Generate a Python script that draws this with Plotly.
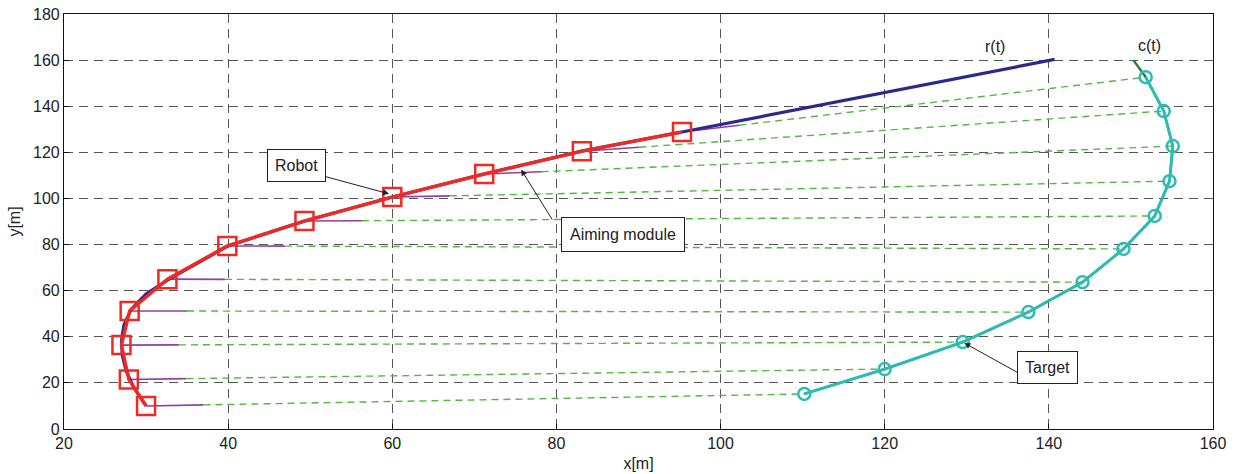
import plotly.graph_objects as go

# Robot positions (red squares) along its path
robot_x = [30.0, 27.9, 27.0, 28.0, 32.6, 39.9, 49.3, 60.0, 71.2, 83.1, 95.3]
robot_y = [10.0, 21.5, 36.4, 51.2, 65.0, 79.4, 90.2, 100.6, 110.6, 120.5, 128.8]

# Reference trajectory r(t)
ref_x = [30.0, 28.5, 27.6, 27.1, 27.0, 27.3, 28.2, 30.0, 32.8, 36.0, 40.0, 49.3, 60.0, 71.2, 83.1, 95.3, 140.7]
ref_y = [10.0, 18.0, 25.0, 32.0, 38.0, 45.0, 52.0, 58.5, 65.0, 71.5, 79.4, 90.2, 100.6, 110.6, 120.5, 128.8, 160.3]

# Target positions (cyan circles)
target_x = [110.2, 120.0, 129.5, 137.5, 144.1, 149.1, 152.9, 154.7, 155.1, 154.0, 151.8]
target_y = [15.2, 26.0, 37.7, 50.7, 63.7, 78.1, 92.4, 107.5, 122.7, 137.9, 152.6]

# Target trajectory c(t) continues past the last sample
ct_x = target_x + [150.3]
ct_y = target_y + [160.0]

x_ticks = [20, 40, 60, 80, 100, 120, 140, 160]
y_ticks = [0, 20, 40, 60, 80, 100, 120, 140, 160, 180]

AIM_LEN = 7.0  # length of the aiming-module segment (x units)

RED = "#ee2a24"
CYAN = "#2bbdb4"

fig = go.Figure()

# Lines of sight from robot to target
los_x, los_y, aim_x, aim_y = [], [], [], []
for xr, yr, xt, yt in zip(robot_x, robot_y, target_x, target_y):
    slope = (yt - yr) / (xt - xr)
    xe, ye = xr + AIM_LEN, yr + AIM_LEN * slope
    los_x += [xe, xt, None]
    los_y += [ye, yt, None]
    aim_x += [xr, xe, None]
    aim_y += [yr, ye, None]

fig.add_trace(go.Scatter(x=los_x, y=los_y, mode="lines",
                         line=dict(color="#52b83f", width=1.4, dash="7px,5px"),
                         hoverinfo="skip", showlegend=False))
fig.add_trace(go.Scatter(x=aim_x, y=aim_y, mode="lines",
                         line=dict(color="#8e3fa0", width=1.6),
                         hoverinfo="skip", showlegend=False))

# r(t)
fig.add_trace(go.Scatter(x=ref_x, y=ref_y, mode="lines",
                         line=dict(color="#2b2a8c", width=3.2), showlegend=False))
# robot path
fig.add_trace(go.Scatter(x=robot_x, y=robot_y, mode="lines",
                         line=dict(color=RED, width=3.4), showlegend=False))
fig.add_trace(go.Scatter(x=robot_x, y=robot_y, mode="markers",
                         marker=dict(symbol="square-open", size=18, color=RED,
                                     line=dict(color=RED, width=2.5)),
                         showlegend=False))

# c(t) and target samples
fig.add_trace(go.Scatter(x=ct_x, y=ct_y, mode="lines",
                         line=dict(color="#1f7d3c", width=2.4), showlegend=False))
fig.add_trace(go.Scatter(x=target_x, y=target_y, mode="lines+markers",
                         line=dict(color=CYAN, width=2.8),
                         marker=dict(symbol="circle-open", size=12, color=CYAN,
                                     line=dict(color=CYAN, width=2.5)),
                         showlegend=False))

font = dict(family="Liberation Sans, Arial, sans-serif", size=16, color="#222")

annotations = [
    dict(x=133.4, y=165.8, text="r(t)", showarrow=False, font=font),
    dict(x=152.3, y=166.5, text="c(t)", showarrow=False, font=font),
    # arrows
    dict(x=59.6, y=102.0, ax=51.3, ay=110.0, axref="x", ayref="y", text="",
         showarrow=True, arrowhead=2, arrowsize=1.2, arrowwidth=1, arrowcolor="#222"),
    dict(x=75.7, y=112.5, ax=79.6, ay=90.2, axref="x", ayref="y", text="",
         showarrow=True, arrowhead=2, arrowsize=1.2, arrowwidth=1, arrowcolor="#222"),
    dict(x=129.7, y=37.3, ax=136.3, ay=24.3, axref="x", ayref="y", text="",
         showarrow=True, arrowhead=2, arrowsize=1.2, arrowwidth=1, arrowcolor="#222"),
    # labels
    dict(x=48.3, y=114.5, text="Robot", showarrow=False, font=font,
         bordercolor="#222", borderwidth=1, borderpad=7, bgcolor="white"),
    dict(x=88.1, y=84.2, text="Aiming module", showarrow=False, font=font,
         bordercolor="#222", borderwidth=1, borderpad=8, bgcolor="white"),
    dict(x=139.8, y=26.5, text="Target", showarrow=False, font=font,
         bordercolor="#222", borderwidth=1, borderpad=7, bgcolor="white"),
]

axis_common = dict(
    showline=True, linecolor="#111", linewidth=1.2, mirror=True,
    ticks="inside", ticklen=5, tickcolor="#111",
    showgrid=True, gridcolor="#555", gridwidth=1, griddash="9px,6px",
    zeroline=False, tickfont=font, automargin=False,
)

fig.update_layout(
    width=1242, height=474,
    margin=dict(l=64, r=29, t=14, b=45),
    paper_bgcolor="white", plot_bgcolor="white",
    font=font,
    xaxis=dict(range=[20, 160], tickvals=x_ticks,
               title=dict(text="x[m]", font=font, standoff=6), **axis_common),
    yaxis=dict(range=[0, 180], tickvals=y_ticks,
               title=dict(text="y[m]", font=font, standoff=8), **axis_common),
    annotations=annotations,
)

fig.write_html("out.html")
